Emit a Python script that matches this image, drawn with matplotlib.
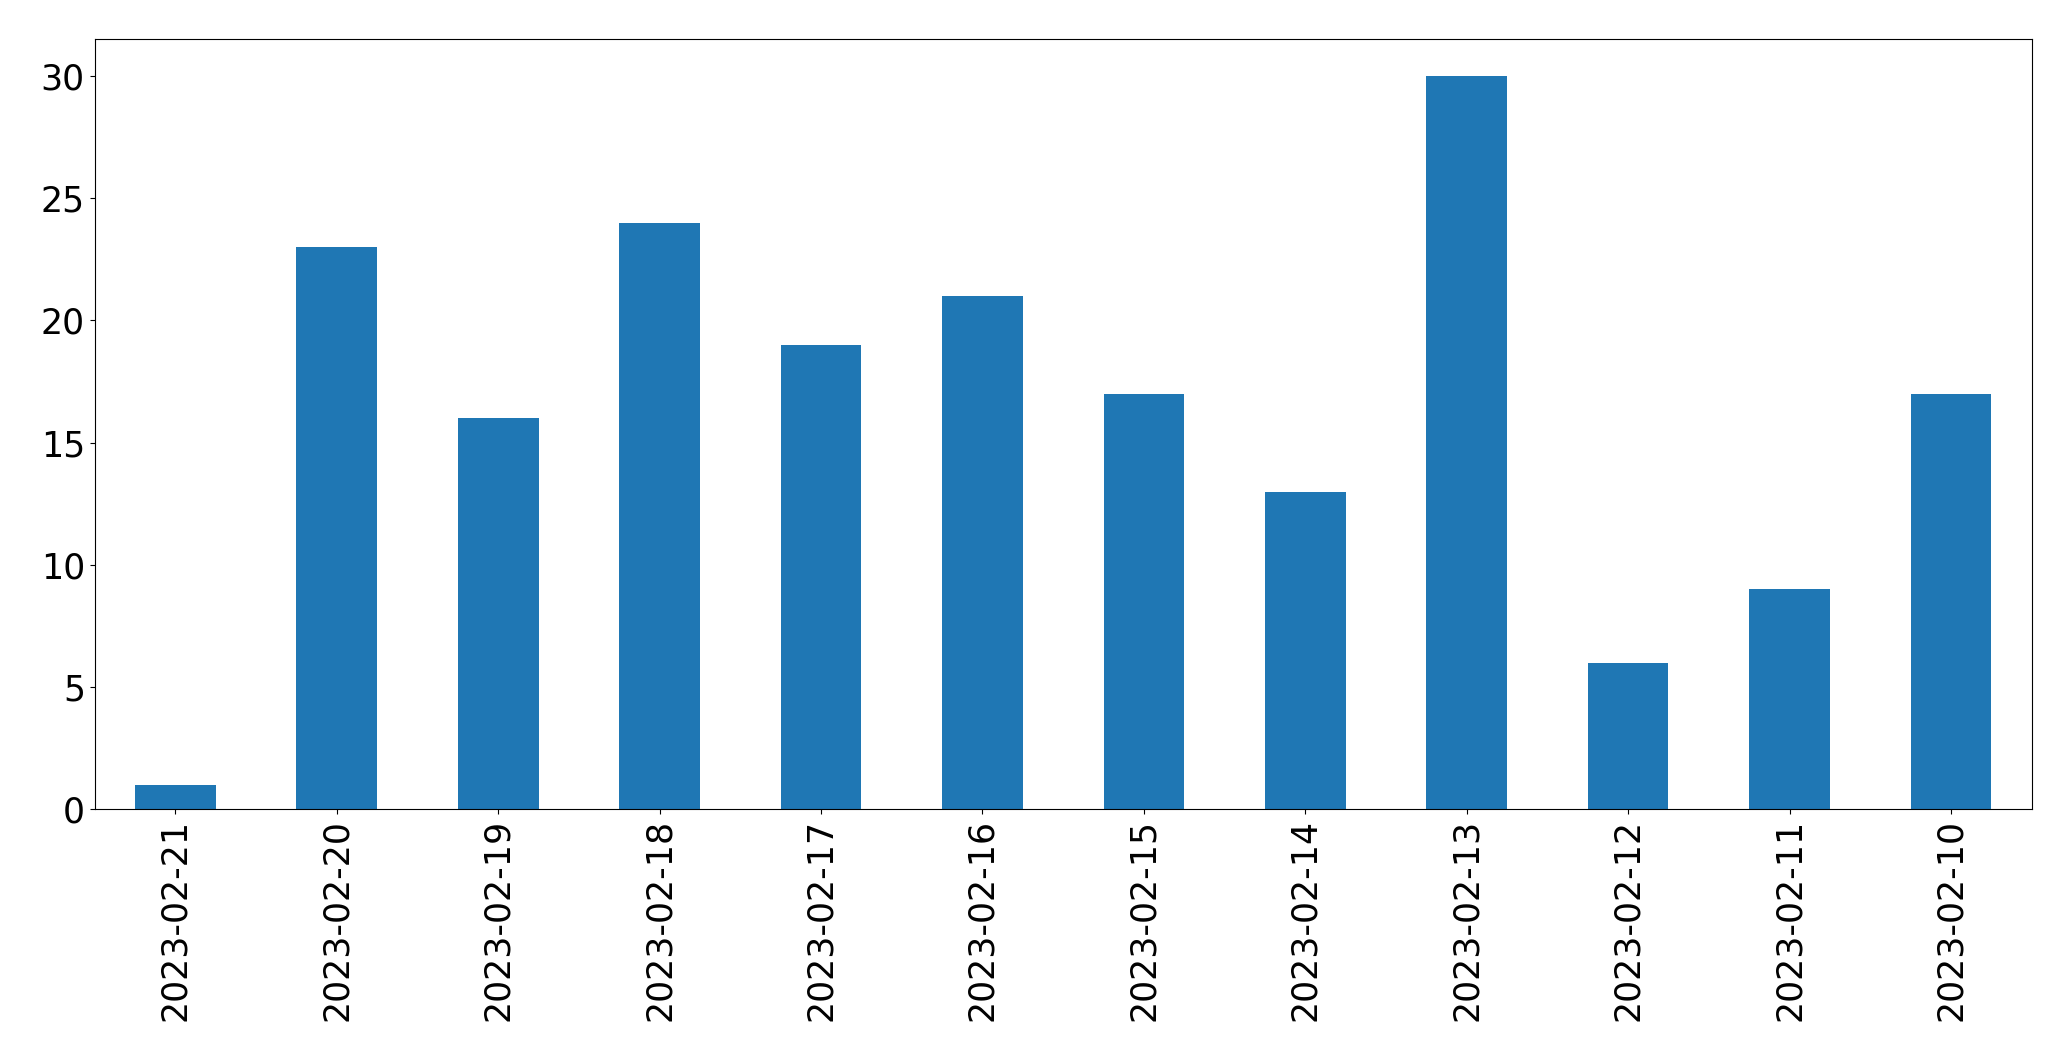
import matplotlib
matplotlib.use("Agg")
import matplotlib.pyplot as plt
import pandas as pd

dates = ["2023-02-21", "2023-02-20", "2023-02-19", "2023-02-18",
         "2023-02-17", "2023-02-16", "2023-02-15", "2023-02-14",
         "2023-02-13", "2023-02-12", "2023-02-11", "2023-02-10"]
counts = [1, 23, 16, 24, 19, 21, 17, 13, 30, 6, 9, 17]

s = pd.Series(counts, index=dates)

fig = plt.figure(figsize=(20.71, 10.61), dpi=100)
ax = fig.add_axes([0.0457, 0.2372, 0.9353, 0.7258])
s.plot(kind="bar", ax=ax, fontsize=25)

fig.savefig("out.png", dpi=100)
